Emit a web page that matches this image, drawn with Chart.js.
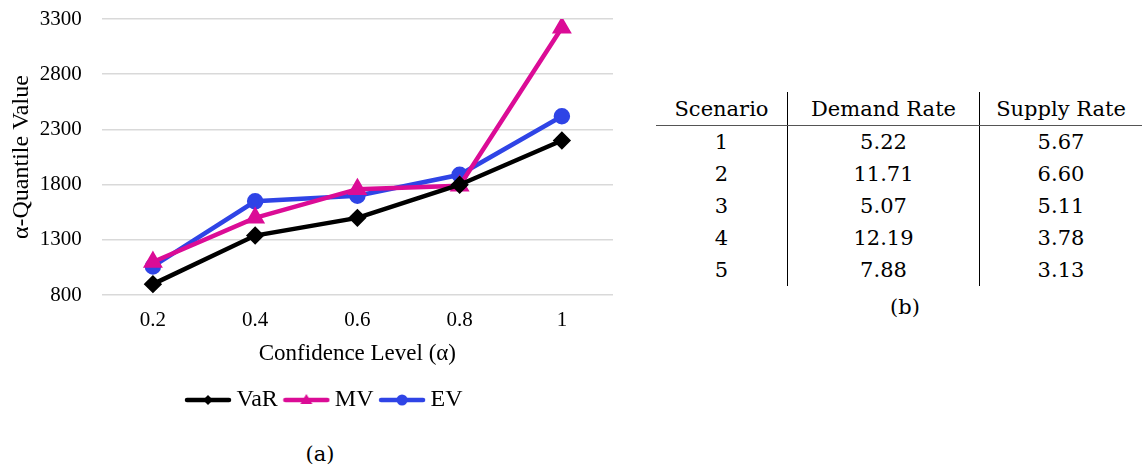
<!DOCTYPE html>
<html>
<head>
<meta charset="utf-8">
<script src="https://cdn.jsdelivr.net/npm/chart.js@4/dist/chart.umd.min.js"></script>
<style>
  body { margin: 0; background: #fff; width: 1145px; height: 472px; position: relative; overflow: hidden; }
  #wrap { position: absolute; left: 0; top: 0; width: 650px; height: 430px; }
  .cap { position: absolute; font-family: "DejaVu Serif", serif; font-size: 21px; color: #000; transform: translateX(-50%); }
  #tbl { position: absolute; left: 656px; top: 92px; border-collapse: collapse; font-family: "DejaVu Serif", serif; font-size: 21px; color: #000; }
  #tbl th, #tbl td { font-weight: normal; text-align: center; padding: 0; height: 32px; line-height: 32px; }
  #tbl th { border-bottom: 1.5px solid #555; height: 33px; }
  #tbl .c0 { width: 131px; border-right: 1px solid #000; }
  #tbl .c1 { width: 191px; border-right: 1px solid #000; }
  #tbl .c2 { width: 162px; }
</style>
</head>
<body>
<div id="wrap"><canvas id="lineChart"></canvas></div>
<div class="cap" style="left:320px; top:442px;">(a)</div>
<table id="tbl"></table>
<div class="cap" style="left:905px; top:295px;">(b)</div>
<script>
// chart data
var alphaLabels = ["0.2", "0.4", "0.6", "0.8", "1"];
var varValues = [900, 1340, 1500, 1800, 2200];
var mvValues = [1100, 1500, 1760, 1790, 3220];
var evValues = [1060, 1650, 1700, 1890, 2420];

// table data
var tableHeader = ["Scenario", "Demand Rate", "Supply Rate"];
var scenarios = ["1", "2", "3", "4", "5"];
var demandRates = ["5.22", "11.71", "5.07", "12.19", "7.88"];
var supplyRates = ["5.67", "6.60", "5.11", "3.78", "3.13"];

// build table
var tbl = document.getElementById("tbl");
var html = "<tr>" + tableHeader.map(function (h, i) { return '<th class="c' + i + '">' + h + "</th>"; }).join("") + "</tr>";
for (var i = 0; i < scenarios.length; i++) {
    html += '<tr><td class="c0">' + scenarios[i] + '</td><td class="c1">' + demandRates[i] + '</td><td class="c2">' + supplyRates[i] + "</td></tr>";
}
tbl.innerHTML = html;

// legend icons: a short line with the marker in the middle
function legendIcon(color, style) {
    var c = document.createElement("canvas");
    c.width = 48; c.height = 16;
    var g = c.getContext("2d");
    g.strokeStyle = color; g.fillStyle = color;
    g.lineWidth = 4.5; g.lineCap = "round";
    g.beginPath(); g.moveTo(3, 8); g.lineTo(45, 8); g.stroke();
    g.beginPath();
    if (style === "rectRot") {
        g.moveTo(24, 3); g.lineTo(29, 8); g.lineTo(24, 13); g.lineTo(19, 8);
    } else if (style === "triangle") {
        g.moveTo(24, 2); g.lineTo(30, 12); g.lineTo(18, 12);
    } else {
        g.arc(24, 8, 5.5, 0, Math.PI * 2);
    }
    g.closePath(); g.fill();
    return c;
}

// nudge the legend a bit to the right, like the original figure
var legendShift = {
    id: "legendShift",
    afterLayout: function (chart) {
        chart.legend.left += 17;
        chart.legend.right += 17;
    }
};

var serif = "'Liberation Serif', serif";
var ctx1 = document.getElementById("lineChart").getContext("2d");
new Chart(ctx1, {
    type: "line",
    plugins: [legendShift],
    data: {
        labels: alphaLabels,
        datasets: [{
            label: "VaR",
            data: varValues,
            borderColor: "#000000",
            backgroundColor: "#000000",
            borderWidth: 4.5,
            pointStyle: "rectRot",
            pointRadius: 6,
            fill: false
        }, {
            label: "MV",
            data: mvValues,
            borderColor: "#DB0C96",
            backgroundColor: "#DB0C96",
            borderWidth: 4.5,
            pointStyle: "triangle",
            pointRadius: 7,
            fill: false
        }, {
            label: "EV",
            data: evValues,
            borderColor: "#2F44E6",
            backgroundColor: "#2F44E6",
            borderWidth: 4.5,
            pointStyle: "circle",
            pointRadius: 6,
            fill: false
        }]
    },
    options: {
        responsive: true,
        maintainAspectRatio: false,
        animation: false,
        layout: { autoPadding: false, padding: { top: 19, right: 37, bottom: 8, left: 7 } },
        plugins: {
            tooltip: { enabled: false },
            legend: {
                position: "bottom",
                labels: {
                    usePointStyle: true,
                    pointStyleWidth: 33,
                    boxHeight: 16,
                    padding: 12,
                    color: "#000",
                    font: { family: serif, size: 24 },
                    generateLabels: function (chart) {
                        return chart.data.datasets.map(function (ds, i) {
                            return {
                                text: ds.label,
                                pointStyle: legendIcon(ds.borderColor, ds.pointStyle),
                                fillStyle: ds.borderColor,
                                strokeStyle: ds.borderColor,
                                lineWidth: 0,
                                fontColor: "#000",
                                datasetIndex: i
                            };
                        });
                    }
                }
            }
        },
        scales: {
            x: {
                offset: true,
                grid: { display: false },
                border: { display: false },
                ticks: { color: "#000", font: { family: serif, size: 21 }, padding: 5 },
                title: { display: true, text: "Confidence Level (α)", color: "#000", font: { family: serif, size: 23 }, padding: { top: 2, bottom: 8 } }
            },
            y: {
                min: 800,
                max: 3300,
                // invisible tick marks give the gap between labels and grid
                grid: { color: "#D9D9D9", lineWidth: 1.5, drawTicks: true, tickLength: 20, tickColor: "rgba(0,0,0,0)" },
                border: { display: false },
                ticks: {
                    stepSize: 500, color: "#000", font: { family: serif, size: 21 }, padding: 0,
                    callback: function (v) { return String(v); }
                },
                title: { display: true, text: "α-Quantile Value", color: "#000", font: { family: serif, size: 24 }, padding: { top: 0, bottom: 4 } }
            }
        }
    }
});
</script>
</body>
</html>
